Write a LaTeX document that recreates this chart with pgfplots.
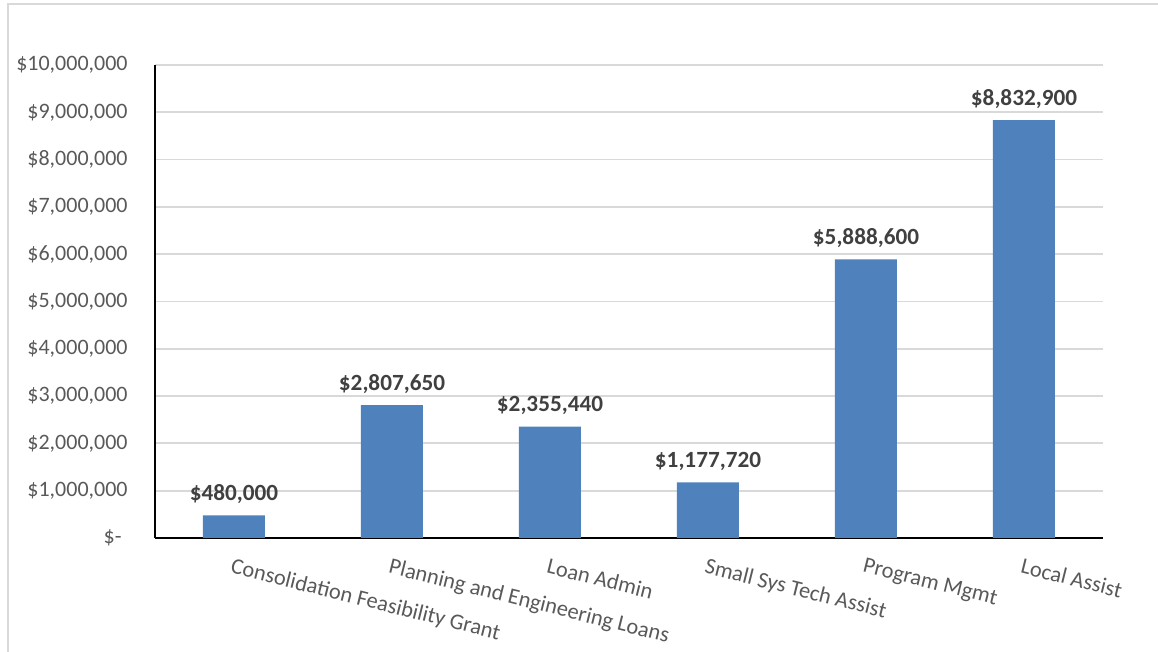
\documentclass[border=0pt]{standalone}
\usepackage{pgfplots}
\pgfplotsset{compat=1.18}
\usepackage{fontspec}
\setmainfont{Carlito}
\definecolor{barblue}{RGB}{79,129,189}
\definecolor{ticktext}{RGB}{89,89,89}
\definecolor{labtext}{RGB}{64,64,64}
\definecolor{gridgray}{RGB}{217,217,217}
\begin{document}
\begin{tikzpicture}
\useasboundingbox (-77.5pt,-57pt) rectangle (501.5pt,269pt);
\draw[gridgray, line width=0.9pt] (-73.5pt,-60pt) -- (-73.5pt,267pt) -- (505pt,267pt);
\begin{axis}[
  at={(0,0)}, anchor=south west,
  scale only axis,
  width=474pt, height=236.5pt,
  xmin=-0.5, xmax=5.5,
  ymin=0, ymax=10000000,
  scaled y ticks=false,
  ytick={0,1000000,2000000,3000000,4000000,5000000,6000000,7000000,8000000,9000000,10000000},
  yticklabels={{\$-\kern3pt},{\$1,000,000},{\$2,000,000},{\$3,000,000},{\$4,000,000},{\$5,000,000},{\$6,000,000},{\$7,000,000},{\$8,000,000},{\$9,000,000},{\$10,000,000}},
  xtick={0,1,2,3,4,5},
  xticklabels={Consolidation Feasibility Grant,Planning and Engineering Loans,Loan Admin,Small Sys Tech Assist,Program Mgmt,Local Assist},
  axis x line*=bottom, axis y line*=left,
  axis line style={-, black, line width=1pt},
  major tick length=0pt,
  ymajorgrids,
  grid style={gridgray, line width=0.9pt},
  yticklabel style={font=\fontsize{11}{13}\selectfont, text=ticktext, anchor=east, inner sep=0pt, xshift=-13.5pt},
  xticklabel style={font=\fontsize{11.2}{13.5}\selectfont, text=ticktext, rotate=-14, anchor=north west, inner sep=0pt, yshift=-9.5pt, xshift=2pt},
  ybar, bar width=31pt, bar shift=0pt,
  point meta=y,
  nodes near coords={\$\pgfmathprintnumber[fixed, precision=0, 1000 sep={,}, assume math mode=true]{\pgfplotspointmeta}},
  every node near coord/.append style={font=\bfseries\fontsize{11.6}{14}\selectfont, text=labtext, anchor=base, yshift=7.5pt, inner sep=0pt},
  clip=false,
]
\addplot[fill=barblue, draw=none] coordinates {
  (0,480000) (1,2807650) (2,2355440) (3,1177720) (4,5888600) (5,8832900)
};
\end{axis}
\end{tikzpicture}
\end{document}
